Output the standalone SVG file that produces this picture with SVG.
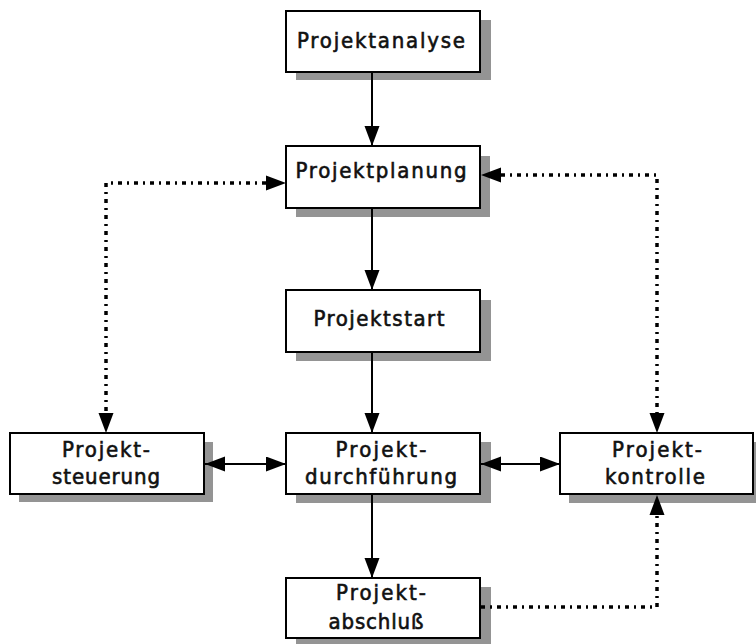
<svg xmlns="http://www.w3.org/2000/svg" width="756" height="644" viewBox="0 0 756 644">
<style>
.shadow{fill:#949494;stroke:none}
.box{fill:#fff;stroke:#000;stroke-width:2}
.t{font-family:"DejaVu Sans Condensed","Liberation Sans",Arial,sans-serif;font-weight:normal;font-size:22px;fill:#111;stroke:#111;stroke-width:0.6;text-anchor:middle}
.solid{fill:none;stroke:#000;stroke-width:2}
.dot{fill:none;stroke:#000;stroke-width:3.5;stroke-dasharray:4 5 2 5}
</style>
<defs>
<marker id="ah" markerUnits="userSpaceOnUse" markerWidth="22" markerHeight="16" refX="20" refY="7.5" orient="auto-start-reverse">
<path d="M0,0 L20,7.5 L0,15 z" fill="#000"/>
</marker>
</defs>
<g id="projektanalyse">
<rect class="shadow" x="296" y="20" width="195" height="60"/>
<rect class="box" x="286" y="11" width="194" height="61"/>
<text class="t" x="381" y="48" textLength="168" lengthAdjust="spacing">Projektanalyse</text>
</g>
<g id="projektplanung">
<rect class="shadow" x="296" y="156" width="194" height="61"/>
<rect class="box" x="286" y="146" width="194" height="62"/>
<text class="t" x="381" y="178" textLength="171" lengthAdjust="spacing">Projektplanung</text>
</g>
<g id="projektstart">
<rect class="shadow" x="296" y="300" width="195" height="61"/>
<rect class="box" x="286" y="290" width="194" height="62"/>
<text class="t" x="379" y="326" textLength="131" lengthAdjust="spacing">Projektstart</text>
</g>
<g id="projektsteuerung">
<rect class="shadow" x="19" y="442" width="194" height="60"/>
<rect class="box" x="10" y="433" width="194" height="61"/>
<text class="t" x="106" y="457" textLength="88" lengthAdjust="spacing">Projekt-</text>
<text class="t" x="106" y="484" textLength="108" lengthAdjust="spacing">steuerung</text>
</g>
<g id="projektdurchfuehrung">
<rect class="shadow" x="296" y="442" width="195" height="61"/>
<rect class="box" x="286" y="433" width="194" height="61"/>
<text class="t" x="381" y="457" textLength="91" lengthAdjust="spacing">Projekt-</text>
<text class="t" x="381" y="484" textLength="152" lengthAdjust="spacing">durchführung</text>
</g>
<g id="projektkontrolle">
<rect class="shadow" x="569" y="442" width="194" height="61"/>
<rect class="box" x="560" y="433" width="193" height="61"/>
<text class="t" x="657" y="457" textLength="90" lengthAdjust="spacing">Projekt-</text>
<text class="t" x="655" y="484" textLength="100" lengthAdjust="spacing">kontrolle</text>
</g>
<g id="projektabschluss">
<rect class="shadow" x="296" y="587" width="195" height="60"/>
<rect class="box" x="286" y="578" width="194" height="60"/>
<text class="t" x="381" y="600" textLength="90" lengthAdjust="spacing">Projekt-</text>
<text class="t" x="376" y="629" textLength="95" lengthAdjust="spacing">abschluß</text>
</g>
<g id="connectors">
<line class="solid" x1="372" y1="73" x2="372" y2="146" marker-end="url(#ah)"/>
<line class="solid" x1="372" y1="209" x2="372" y2="290" marker-end="url(#ah)"/>
<line class="solid" x1="372" y1="353" x2="372" y2="433" marker-end="url(#ah)"/>
<line class="solid" x1="372" y1="495" x2="372" y2="578" marker-end="url(#ah)"/>
<line class="solid" x1="205" y1="464" x2="286" y2="464" marker-start="url(#ah)" marker-end="url(#ah)"/>
<line class="solid" x1="481" y1="464" x2="560" y2="464" marker-start="url(#ah)" marker-end="url(#ah)"/>
<path class="dot" d="M266,183 L106,183 L106,413"/>
<path d="M266,175.5 L286,183 L266,190.5 z M98.5,413 L106,433 L113.5,413 z" fill="#000"/>
<path class="dot" d="M501,175 L657,175 L657,413"/>
<path d="M501,167.5 L481,175 L501,182.5 z M649.5,413 L657,433 L664.5,413 z" fill="#000"/>
<path class="dot" d="M481,607 L657,607 L657,515"/>
<path d="M649.5,515 L657,495 L664.5,515 z" fill="#000"/>
</g>
</svg>
